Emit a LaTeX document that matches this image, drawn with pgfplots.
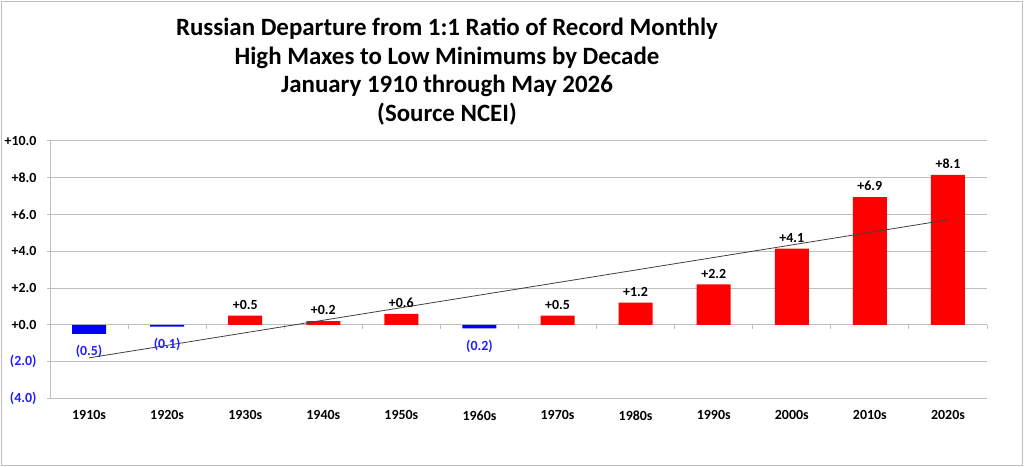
\documentclass[border=0pt]{standalone}
\usepackage{pgfplots}
\pgfplotsset{compat=1.18}
\usepackage{fontspec}
\setmainfont{Carlito}
\definecolor{barred}{HTML}{FF0000}
\definecolor{barblue}{HTML}{0000FF}
\definecolor{lblblue}{HTML}{2020FF}
\definecolor{gridgray}{HTML}{BFBFBF}
\definecolor{trend}{HTML}{404040}
\begin{document}
\begin{tikzpicture}
\useasboundingbox (0,0) rectangle (1024bp,467bp);
\draw[gridgray, line width=1.5bp] (1.5bp,1.5bp) rectangle (1022.5bp,465.5bp);
\begin{axis}[
  at={(50bp,68.7bp)}, anchor=south west,
  scale only axis, width=937bp, height=257.3bp,
  xmin=0.5, xmax=12.5, ymin=-4, ymax=10,
  axis x line*=bottom, axis y line*=left,
  x axis line style={draw=none}, xtick style={draw=none},
  y axis line style={draw=gridgray, line width=1bp},
  ytick style={draw=gridgray, line width=1bp},
  tick align=outside, major tick length=3bp,
  ymajorgrids, grid style={draw=gridgray, line width=1bp},
  xtick={1,...,12},
  xticklabels={1910s,1920s,1930s,1940s,1950s,1960s,1970s,1980s,1990s,2000s,2010s,2020s},
  ytick={-4,-2,0,2,4,6,8,10},
  yticklabels={\textcolor{lblblue}{(4.0)},\textcolor{lblblue}{(2.0)},+0.0,+2.0,+4.0,+6.0,+8.0,+10.0},
  tick label style={font=\fontsize{14}{16}\selectfont\bfseries},
  xticklabel style={yshift=-6bp},
  yticklabel style={xshift=-7bp},
  ybar, bar width=34bp,
  point meta=explicit symbolic,
  clip=false,
]
\pgfplotsinvokeforeach{0.5,1.5,...,12.5}{
  \draw[gridgray, line width=1bp] (axis cs:#1,0) -- ([yshift=-4bp]axis cs:#1,0);
}
\addplot[ybar, bar shift=0pt, fill=barred, draw=none,
  nodes near coords,
  every node near coord/.append style={anchor=south, yshift=2.5bp, text=black,
    font=\fontsize{14}{16}\selectfont\bfseries}]
  table[meta=label] {
x y label
3 0.5 +0.5
4 0.2 +0.2
5 0.6 +0.6
7 0.5 +0.5
8 1.2 +1.2
9 2.2 +2.2
10 4.15 +4.1
11 6.95 +6.9
12 8.15 +8.1
};
\addplot[ybar, bar shift=0pt, fill=barblue, draw=none,
  nodes near coords,
  every node near coord/.append style={anchor=north, yshift=-8bp, text=lblblue,
    font=\fontsize{14}{16}\selectfont\bfseries}]
  table[meta=label] {
x y label
1 -0.5 (0.5)
2 -0.1 (0.1)
6 -0.2 (0.2)
};
\addplot[sharp plot, draw=trend, line width=0.8bp, mark=none, nodes near coords={}] coordinates {(1,-1.80) (12,5.71)};
\end{axis}
\begin{scope}[every node/.style={font=\fontsize{25}{30}\selectfont\bfseries, anchor=base, inner sep=0pt}]
\node at (447bp,431.3bp) {Russian Departure from 1:1 Ratio of Record Monthly};
\node at (447bp,402bp) {High Maxes to Low Minimums by Decade};
\node at (447bp,374.3bp) {January 1910 through May 2026};
\node at (447bp,345bp) {(Source NCEI)};
\end{scope}
\end{tikzpicture}
\end{document}
